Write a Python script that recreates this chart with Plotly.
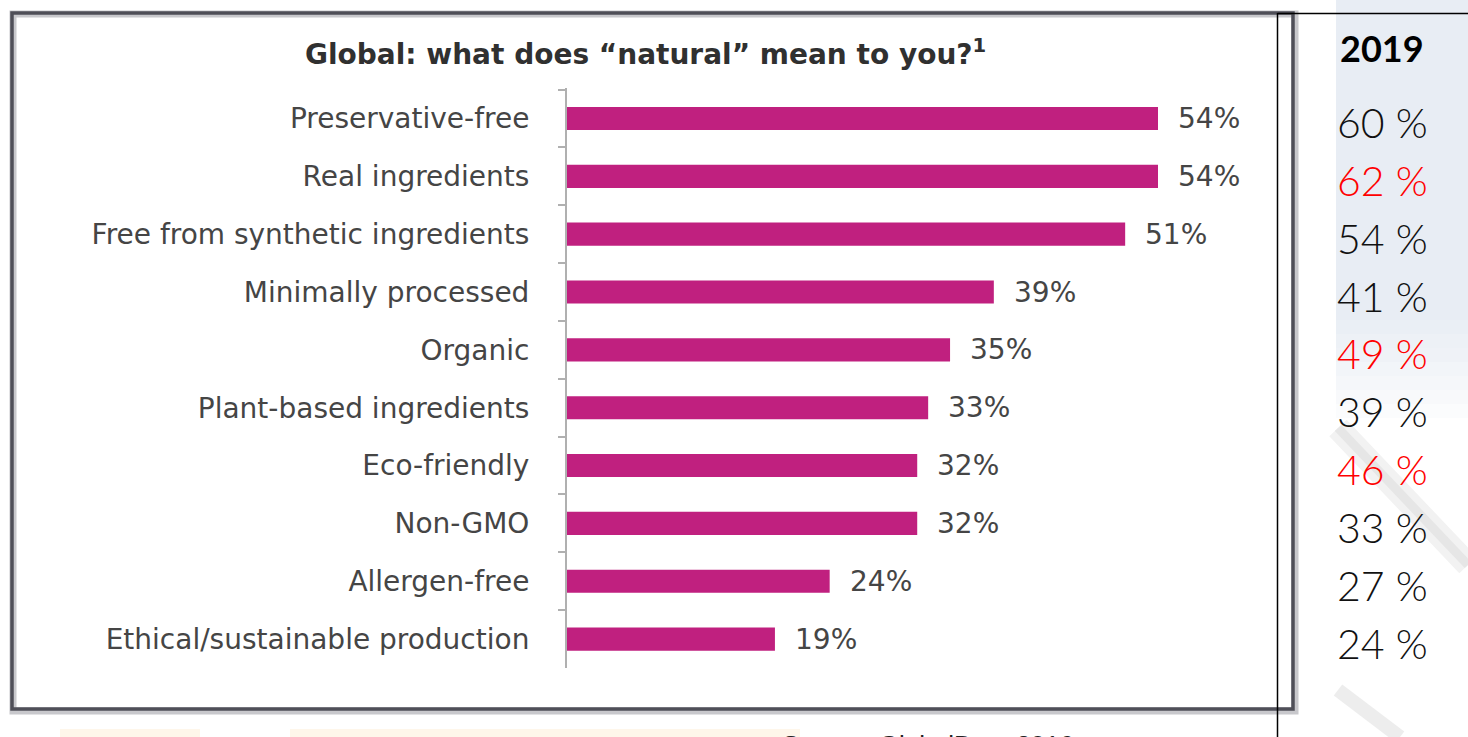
import plotly.graph_objects as go

W, H = 1468, 737

categories = [
    "Preservative-free",
    "Real ingredients",
    "Free from synthetic ingredients",
    "Minimally processed",
    "Organic",
    "Plant-based ingredients",
    "Eco-friendly",
    "Non-GMO",
    "Allergen-free",
    "Ethical/sustainable production",
]
share_2016 = [54, 54, 51, 39, 35, 33, 32, 32, 24, 19]
share_2019 = [60, 62, 54, 41, 49, 39, 46, 33, 27, 24]
highlight_2019 = [False, True, False, False, True, False, True, False, False, False]

title_text = "Global: what does “natural” mean to you?<sup>1</sup>"
year_label = "2019"
source_text = "Source: GlobalData 2016"

BAR_COLOR = "#C0207F"
LABEL_GREY = "#454545"
LABEL_FONT = "DejaVu Sans"


def px(x):
    return x / W


def py(y):
    return 1 - y / H


fig = go.Figure()

fig.add_trace(
    go.Bar(
        x=share_2016,
        y=categories,
        orientation="h",
        marker=dict(color=BAR_COLOR, line=dict(width=0)),
        width=0.4,
        hoverinfo="skip",
    )
)

annotations = []

# value labels to the right of each bar
for cat, v in zip(categories, share_2016):
    annotations.append(
        dict(
            x=v, y=cat, xref="x", yref="y",
            text=f"{v}%", showarrow=False,
            xanchor="left", yanchor="middle", xshift=18,
            font=dict(family=LABEL_FONT, size=28, color=LABEL_GREY),
        )
    )

# 2019 comparison column
for cat, v, hi in zip(categories, share_2019, highlight_2019):
    annotations.append(
        dict(
            x=px(1335), y=cat, xref="paper", yref="y",
            text=f"{v} %", showarrow=False,
            xanchor="left", yanchor="middle", yshift=-4,
            font=dict(family="Lato", size=41, weight=300,
                      color="#FF0000" if hi else "#111111"),
        )
    )

annotations.append(
    dict(
        x=px(1338), y=py(48), xref="paper", yref="paper",
        text=f"<b>{year_label}</b>", showarrow=False,
        xanchor="left", yanchor="middle",
        font=dict(family="Lato", size=36, color="#000000"),
    )
)

annotations.append(
    dict(
        x=px(645), y=py(52), xref="paper", yref="paper",
        text=f"<b>{title_text}</b>", showarrow=False,
        xanchor="center", yanchor="middle",
        font=dict(family=LABEL_FONT, size=28, color="#303030"),
    )
)

annotations.append(
    dict(
        x=px(780), y=py(728), xref="paper", yref="paper",
        text=source_text, showarrow=False,
        xanchor="left", yanchor="top",
        font=dict(family="Liberation Sans", size=26, color="#222222"),
    )
)

shapes = [
    # pale blue panel behind the 2019 column
    dict(type="rect", xref="paper", yref="paper", layer="below",
         x0=px(1336), x1=1, y0=py(320), y1=1,
         fillcolor="#E8EDF4", line=dict(width=0)),
]
# soft fade of the panel into white
fade = ["#EAEFF5", "#EDF1F6", "#EFF2F7", "#F2F5F9", "#F5F7FA", "#F8F9FB", "#FBFCFD"]
for i, c in enumerate(fade):
    shapes.append(
        dict(type="rect", xref="paper", yref="paper", layer="below",
             x0=px(1336), x1=1, y0=py(320 + 14 * (i + 1)), y1=py(320 + 14 * i),
             fillcolor=c, line=dict(width=0))
    )
shapes += [
    # faint grey swooshes
    dict(type="line", xref="paper", yref="paper", layer="below",
         x0=px(1338), y0=py(428), x1=1, y1=py(565),
         line=dict(color="#F2F2F2", width=24)),
    dict(type="line", xref="paper", yref="paper", layer="below",
         x0=px(1338), y0=py(428), x1=1, y1=py(565),
         line=dict(color="#E6E6E6", width=9)),
    dict(type="line", xref="paper", yref="paper", layer="below",
         x0=px(1338), y0=py(690), x1=px(1400), y1=py(737),
         line=dict(color="#EDEDED", width=14)),
    # faint warm band at the bottom edge
    dict(type="rect", xref="paper", yref="paper", layer="below",
         x0=px(60), x1=px(200), y0=0, y1=py(729),
         fillcolor="#FEF6EA", line=dict(width=0)),
    dict(type="rect", xref="paper", yref="paper", layer="below",
         x0=px(290), x1=px(800), y0=0, y1=py(729),
         fillcolor="#FEF6EA", line=dict(width=0)),
    # framed chart panel with a soft shadow
    dict(type="rect", xref="paper", yref="paper",
         x0=px(13), x1=px(1295), y0=py(711), y1=py(14),
         line=dict(color="#C8C8CC", width=7)),
    dict(type="rect", xref="paper", yref="paper",
         x0=px(12), x1=px(1293), y0=py(709), y1=py(13),
         line=dict(color="#4F4F58", width=3.5)),
    # thin black rules
    dict(type="line", xref="paper", yref="paper",
         x0=px(1277.5), x1=px(1277.5), y0=0, y1=py(13),
         line=dict(color="#000000", width=1.5)),
    dict(type="line", xref="paper", yref="paper",
         x0=px(1277.5), x1=1, y0=py(13.5), y1=py(13.5),
         line=dict(color="#000000", width=1.5)),
]

plot_left, plot_right = 567, 1262
px_per_pct = (1158 - 567) / 54.0

fig.update_layout(
    width=W, height=H,
    margin=dict(l=0, r=0, t=0, b=0),
    paper_bgcolor="#FFFFFF",
    plot_bgcolor="rgba(0,0,0,0)",
    showlegend=False,
    annotations=annotations,
    shapes=shapes,
    xaxis=dict(
        domain=[px(plot_left), px(plot_right)],
        range=[0, (plot_right - plot_left) / px_per_pct],
        visible=False,
        fixedrange=True,
    ),
    yaxis=dict(
        domain=[py(668), py(88)],
        type="category",
        categoryorder="array",
        categoryarray=categories,
        autorange="reversed",
        showline=True,
        linecolor="#B0B0B0",
        linewidth=2,
        ticks="outside",
        tickson="boundaries",
        ticklen=7,
        tickwidth=1.5,
        tickcolor="#B0B0B0",
        ticklabelstandoff=30,
        showgrid=False,
        zeroline=False,
        tickfont=dict(family=LABEL_FONT, size=28, color=LABEL_GREY),
        fixedrange=True,
    ),
)

fig.write_html("out.html")
